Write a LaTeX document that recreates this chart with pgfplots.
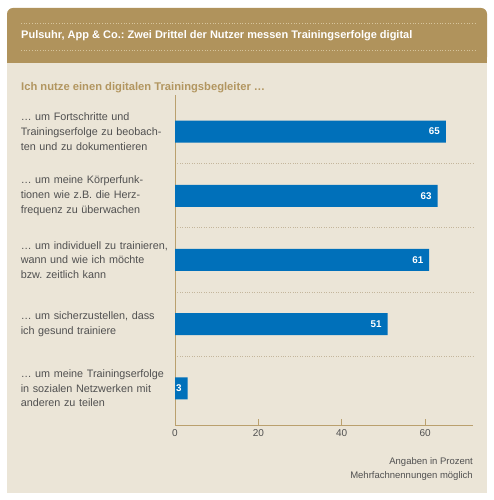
\documentclass[border=0pt]{standalone}
\usepackage{fontspec}
\setmainfont{Liberation Sans}
\usepackage{pgfplots}
\usepackage{pgfplotstable}
\pgfplotsset{compat=1.18}

\definecolor{headgold}{RGB}{176,147,92}
\definecolor{headdot}{RGB}{214,196,156}
\definecolor{bodybeige}{RGB}{235,229,215}
\definecolor{subgold}{RGB}{178,150,96}
\definecolor{axisgold}{RGB}{186,160,110}
\definecolor{sepcol}{RGB}{196,182,156}
\definecolor{barblue}{RGB}{0,112,186}
\definecolor{labelgray}{RGB}{80,80,80}

\pgfplotstableread{
idx val
0 65
1 63
2 61
3 51
4 3
}\trainingdata

\begin{document}
\frenchspacing
\begin{tikzpicture}[x=1pt,y=1pt]
% page and panel
\fill[white] (0,0) rectangle (494,500);
\fill[headgold, rounded corners=6pt] (7,437) rectangle (487,492);
\fill[headgold] (7,437) rectangle (487,460);
\fill[bodybeige] (7,7) rectangle (487,437);
\draw[headdot, dotted, line width=0.7pt] (21,477) -- (475,477);
\draw[headdot, dotted, line width=0.7pt] (21,450) -- (475,450);
\node[anchor=west, inner sep=0pt, text=white, font=\bfseries\fontsize{11}{12}\selectfont]
  at (21,464) {Pulsuhr, App \& Co.: Zwei Drittel der Nutzer messen Trainingserfolge digital};
\node[anchor=west, inner sep=0pt, text=subgold, font=\bfseries\fontsize{11.2}{12}\selectfont]
  at (21,412) {Ich nutze einen digitalen Trainingsbegleiter …};

\begin{axis}[
  at={(175pt,75pt)}, anchor=south west,
  scale only axis, width=298pt, height=330pt,
  xbar, bar width=22pt,
  xmin=0, xmax=71.5, ymin=-0.57, ymax=4.57, y dir=reverse,
  axis x line=bottom, axis y line=left,
  axis line style={-, draw=axisgold, line width=0.9pt},
  xtick={0,20,40,60}, tick align=inside,
  x tick style={draw=axisgold, line width=0.9pt}, major tick length=6pt,
  ytick={0,1,2,3,4}, y tick style={draw=none},
  minor ytick={0.5,1.5,2.5,3.5}, yminorgrids, minor tick length=0pt,
  minor grid style={sepcol, dotted, line width=0.8pt},
  yticklabels={
    {… um Fortschritte und\\Trainingserfolge zu beobach-\\ten und zu dokumentieren},
    {… um meine Körperfunk-\\tionen wie z.B. die Herz-\\frequenz zu überwachen},
    {… um individuell zu trainieren,\\wann und wie ich möchte\\bzw.\ zeitlich kann},
    {… um sicherzustellen, dass\\ich gesund trainiere},
    {… um meine Trainingserfolge\\in sozialen Netzwerken mit\\anderen zu teilen}},
  yticklabel style={text width=150pt, align=left, inner sep=0pt, xshift=-4pt,
    text=labelgray, font=\fontsize{10.8}{14.6}\selectfont},
  xticklabel style={text=labelgray, font=\fontsize{10}{11}\selectfont, yshift=-1pt},
  /pgf/number format/assume math mode=true,
  nodes near coords,
  nodes near coords style={anchor=east, xshift=-2.5pt, text=white,
    font=\bfseries\fontsize{9.8}{10}\selectfont},
]
\addplot[fill=barblue, draw=none] table[x=val, y=idx] {\trainingdata};
\end{axis}

\node[anchor=east, inner sep=0pt, text=labelgray, font=\fontsize{9.5}{10}\selectfont]
  at (473,38) {Angaben in Prozent};
\node[anchor=east, inner sep=0pt, text=labelgray, font=\fontsize{9.5}{10}\selectfont]
  at (473,24) {Mehrfachnennungen möglich};
\end{tikzpicture}
\end{document}
